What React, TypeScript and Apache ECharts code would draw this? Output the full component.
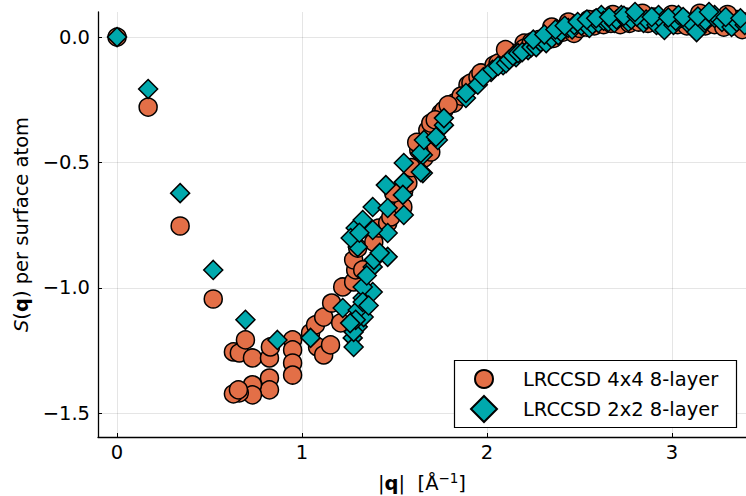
import React, { useEffect, useRef } from 'react';
import * as echarts from 'echarts';

const FONT = 'DejaVu Sans';
const X_TICKS = [0, 1, 2, 3];
const Y_TICKS = [-1.5, -1.0, -0.5, 0.0];
const SERIES_NAMES = ['LRCCSD 4x4 8-layer', 'LRCCSD 2x2 8-layer'];
const COLORS = ['#E36F47', '#00A9AD'];

// LRCCSD 4x4 8-layer : [|q|, S(q)]
const circles4x4: [number, number][] = [
  [0, 0], [0.168, -0.279], [0.341, -0.753], [0.52, -1.044],
  [0.629, -1.255], [0.661, -1.259], [0.694, -1.207], [0.732, -1.279], [0.824, -1.279],
  [0.829, -1.235], [0.949, -1.207], [0.949, -1.247], [0.949, -1.299], [0.949, -1.347],
  [0.824, -1.359], [0.824, -1.406], [0.732, -1.386], [0.732, -1.426], [0.661, -1.418],
  [0.629, -1.422], [0.656, -1.406],
  [1.046, -1.179], [1.073, -1.147], [1.084, -1.235], [1.117, -1.267], [1.117, -1.116],
  [1.154, -1.227], [1.16, -1.06], [1.209, -1.139], [1.22, -0.996], [1.279, -0.976],
  [1.29, -0.928], [1.279, -0.888], [1.328, -0.928], [1.301, -0.841], [1.388, -0.817],
  [1.415, -0.761], [1.463, -0.741], [1.48, -0.717], [1.518, -0.637], [1.55, -0.61],
  [1.572, -0.582], [1.545, -0.677], [1.659, -0.482], [1.696, -0.458], [1.496, -0.622],
  [1.631, -0.45], [1.68, -0.371], [1.696, -0.343], [1.751, -0.303], [1.767, -0.291],
  [1.821, -0.263], [1.897, -0.191], [1.913, -0.183], [1.951, -0.159], [1.967, -0.143],
  [1.86, -0.235], [1.79, -0.27], [1.72, -0.33], [1.62, -0.42], [1.59, -0.52],
  [2.038, -0.112], [2.06, -0.104], [2.13, -0.064], [2.201, -0.024],
  [2.2, -0.045], [2.24, -0.02], [2.26, -0.03], [2.28, -0.01], [2.33, 0.0], [2.36, -0.005],
  [2.37, 0.015], [2.41, 0.02], [2.45, 0.03], [2.47, 0.015], [2.5, 0.035], [2.54, 0.04],
  [2.58, 0.045], [2.63, 0.05], [2.67, 0.055], [2.72, 0.05], [2.77, 0.055], [2.82, 0.06],
  [2.87, 0.055], [2.93, 0.05], [2.98, 0.055], [3.03, 0.05], [3.08, 0.045], [3.13, 0.05],
  [3.18, 0.045], [3.23, 0.05], [3.28, 0.04], [3.33, 0.045], [3.38, 0.03],
  [2.6, 0.075], [2.75, 0.08], [2.9, 0.08], [3.05, 0.075], [3.2, 0.08], [3.35, 0.07],
  [2.44, 0.06], [2.55, 0.07], [2.68, 0.09], [2.84, 0.095], [3.0, 0.09], [3.15, 0.095],
  [3.3, 0.09], [3.4, 0.06], [2.35, 0.04], [2.1, -0.05],
];

// LRCCSD 2x2 8-layer : [|q|, S(q)]
const diamonds2x2: [number, number][] = [
  [0, 0], [0.168, -0.207], [0.341, -0.622], [0.52, -0.928], [0.694, -1.127], [0.867, -1.207],
  [1.046, -1.199], [1.22, -1.08],
  [1.274, -1.199], [1.279, -1.235], [1.301, -1.155], [1.333, -1.116], [1.301, -1.088],
  [1.328, -1.04], [1.382, -1.016], [1.328, -0.996], [1.382, -0.916], [1.388, -0.888],
  [1.463, -0.876], [1.463, -0.781], [1.382, -0.769], [1.301, -0.837], [1.29, -0.761],
  [1.328, -0.729], [1.263, -0.801], [1.382, -0.677], [1.463, -0.681], [1.55, -0.709],
  [1.453, -0.59], [1.55, -0.578], [1.545, -0.629], [1.279, -1.175], [1.29, -1.127],
  [1.328, -1.056], [1.55, -0.502], [1.653, -0.542], [1.653, -0.47], [1.642, -0.462],
  [1.659, -0.41], [1.734, -0.41], [1.767, -0.351], [1.767, -0.323], [1.886, -0.243],
  [1.886, -0.223], [2.022, -0.139], [2.087, -0.112], [2.157, -0.08], [2.222, -0.052],
  [1.724, -0.398], [1.642, -0.538], [1.95, -0.19], [1.98, -0.16],
  [1.35, -0.95], [1.42, -0.86], [1.31, -0.78], [1.36, -1.07], [1.26, -1.14],
  [2.03, -0.13], [2.06, -0.115], [2.103, -0.104], [2.12, -0.09], [2.14, -0.075],
  [2.168, -0.064], [2.19, -0.06], [2.24, -0.04], [2.266, -0.04], [2.29, -0.02],
  [2.32, -0.024], [2.35, -0.005], [2.385, 0.008], [2.4, 0.02], [2.439, 0.036],
  [2.46, 0.03], [2.472, 0.048], [2.51, 0.045], [2.553, 0.036], [2.57, 0.05],
  [2.602, 0.056], [2.618, 0.088], [2.63, 0.065], [2.656, 0.06], [2.688, 0.056],
  [2.7, 0.07], [2.726, 0.088], [2.764, 0.06], [2.78, 0.07], [2.846, 0.056],
  [2.86, 0.07], [2.916, 0.048], [2.927, 0.088], [2.95, 0.065], [2.959, 0.028],
  [3.008, 0.048], [3.02, 0.065], [3.035, 0.088], [3.095, 0.048], [3.1, 0.06],
  [3.133, 0.02], [3.176, 0.056], [3.18, 0.065], [3.23, 0.076], [3.23, 0.088],
  [3.27, 0.06], [3.322, 0.04], [3.35, 0.06], [3.393, 0.048],
  [2.25, -0.01], [2.31, 0.01], [2.37, 0.03], [2.42, 0.045], [2.49, 0.06], [2.54, 0.07],
  [2.59, 0.075], [2.66, 0.08], [2.74, 0.085], [2.81, 0.082], [2.89, 0.08], [2.98, 0.078],
  [3.06, 0.08], [3.14, 0.082], [3.2, 0.1], [3.29, 0.08], [3.37, 0.075], [2.8, 0.1],
];

const X_MIN = -0.103;
const X_MAX = 3.4;
const Y_MIN = -1.594;
const Y_MAX = 0.1;

export default function App() {
  const ref = useRef<HTMLDivElement>(null);

  useEffect(() => {
    const chart = echarts.init(ref.current!, null, { renderer: 'svg' });
    const FS = 19.5;
    const baseText = { fontFamily: FONT, color: '#000', fontSize: FS };
    const legendCommon = {
      orient: 'vertical',
      padding: 0,
      selectedMode: false,
      z: 60,
    };
    chart.setOption({
      animation: false,
      backgroundColor: '#fff',
      textStyle: { fontFamily: FONT },
      grid: {
        left: 98, right: 0, top: 12, bottom: 59,
        containLabel: false, outerBoundsMode: 'none',
      },
      xAxis: {
        type: 'value',
        min: X_MIN,
        max: X_MAX,
        name: '|{b|q}|  [Å{s|−1}]',
        nameLocation: 'middle',
        nameGap: 34,
        nameTextStyle: {
          ...baseText,
          lineHeight: 24,
          rich: {
            b: { fontFamily: FONT, fontSize: FS, fontWeight: 'bold', color: '#000', lineHeight: 24 },
            s: { fontFamily: FONT, fontSize: 13.5, color: '#000', verticalAlign: 'top', lineHeight: 14 },
          },
        },
        axisLine: { show: true, onZero: false, lineStyle: { color: '#000', width: 1.3 } },
        axisTick: { show: true, inside: true, length: 4, customValues: X_TICKS, lineStyle: { color: '#000' } },
        axisLabel: { ...baseText, margin: 5, customValues: X_TICKS, formatter: (v: number) => String(v) },
        splitLine: { show: true, lineStyle: { color: 'rgba(0,0,0,0.1)', width: 1 } },
      },
      yAxis: {
        type: 'value',
        min: Y_MIN,
        max: Y_MAX,
        name: '{i|S}({b|q}) per surface atom',
        nameLocation: 'middle',
        nameGap: 64,
        nameTextStyle: {
          ...baseText,
          rich: {
            i: { fontFamily: FONT, fontSize: FS, fontStyle: 'italic', color: '#000' },
            b: { fontFamily: FONT, fontSize: FS, fontWeight: 'bold', color: '#000' },
          },
        },
        axisLine: { show: true, onZero: false, lineStyle: { color: '#000', width: 1.3 } },
        axisTick: { show: true, inside: true, length: 4, customValues: Y_TICKS, lineStyle: { color: '#000' } },
        axisLabel: {
          ...baseText,
          margin: 8,
          customValues: Y_TICKS,
          formatter: (v: number) => v.toFixed(1).replace('-', '\u2212'),
        },
        splitLine: { show: true, lineStyle: { color: 'rgba(0,0,0,0.1)', width: 1 } },
      },
      graphic: [
        {
          type: 'rect',
          z: 50,
          shape: { x: 454.5, y: 360.5, width: 282, height: 67 },
          style: { fill: '#fff', stroke: '#000', lineWidth: 1.2 },
        },
      ],
      legend: [
        {
          ...legendCommon,
          data: [SERIES_NAMES[0]],
          left: 474,
          top: 369,
          itemWidth: 18,
          itemHeight: 18,
          textStyle: { ...baseText, padding: [0, 0, 0, 25] },
        },
        {
          ...legendCommon,
          data: [SERIES_NAMES[1]],
          left: 470,
          top: 395,
          itemWidth: 26,
          itemHeight: 26,
          textStyle: { ...baseText, padding: [0, 0, 0, 21] },
        },
      ],
      series: [
        {
          name: SERIES_NAMES[0],
          type: 'scatter',
          symbol: 'circle',
          symbolSize: 18,
          data: circles4x4,
          itemStyle: { color: COLORS[0], borderColor: '#000', borderWidth: 1.5, opacity: 1 },
          emphasis: { disabled: true },
        },
        {
          name: SERIES_NAMES[1],
          type: 'scatter',
          symbol: 'diamond',
          symbolSize: 19,
          data: diamonds2x2,
          itemStyle: { color: COLORS[1], borderColor: '#000', borderWidth: 1.5, opacity: 1 },
          emphasis: { disabled: true },
        },
      ],
    });
    return () => chart.dispose();
  }, []);

  return (
    <div
      ref={ref}
      style={{ position: 'fixed', left: 0, top: 0, width: 746, height: 496, background: '#fff' }}
    />
  );
}
